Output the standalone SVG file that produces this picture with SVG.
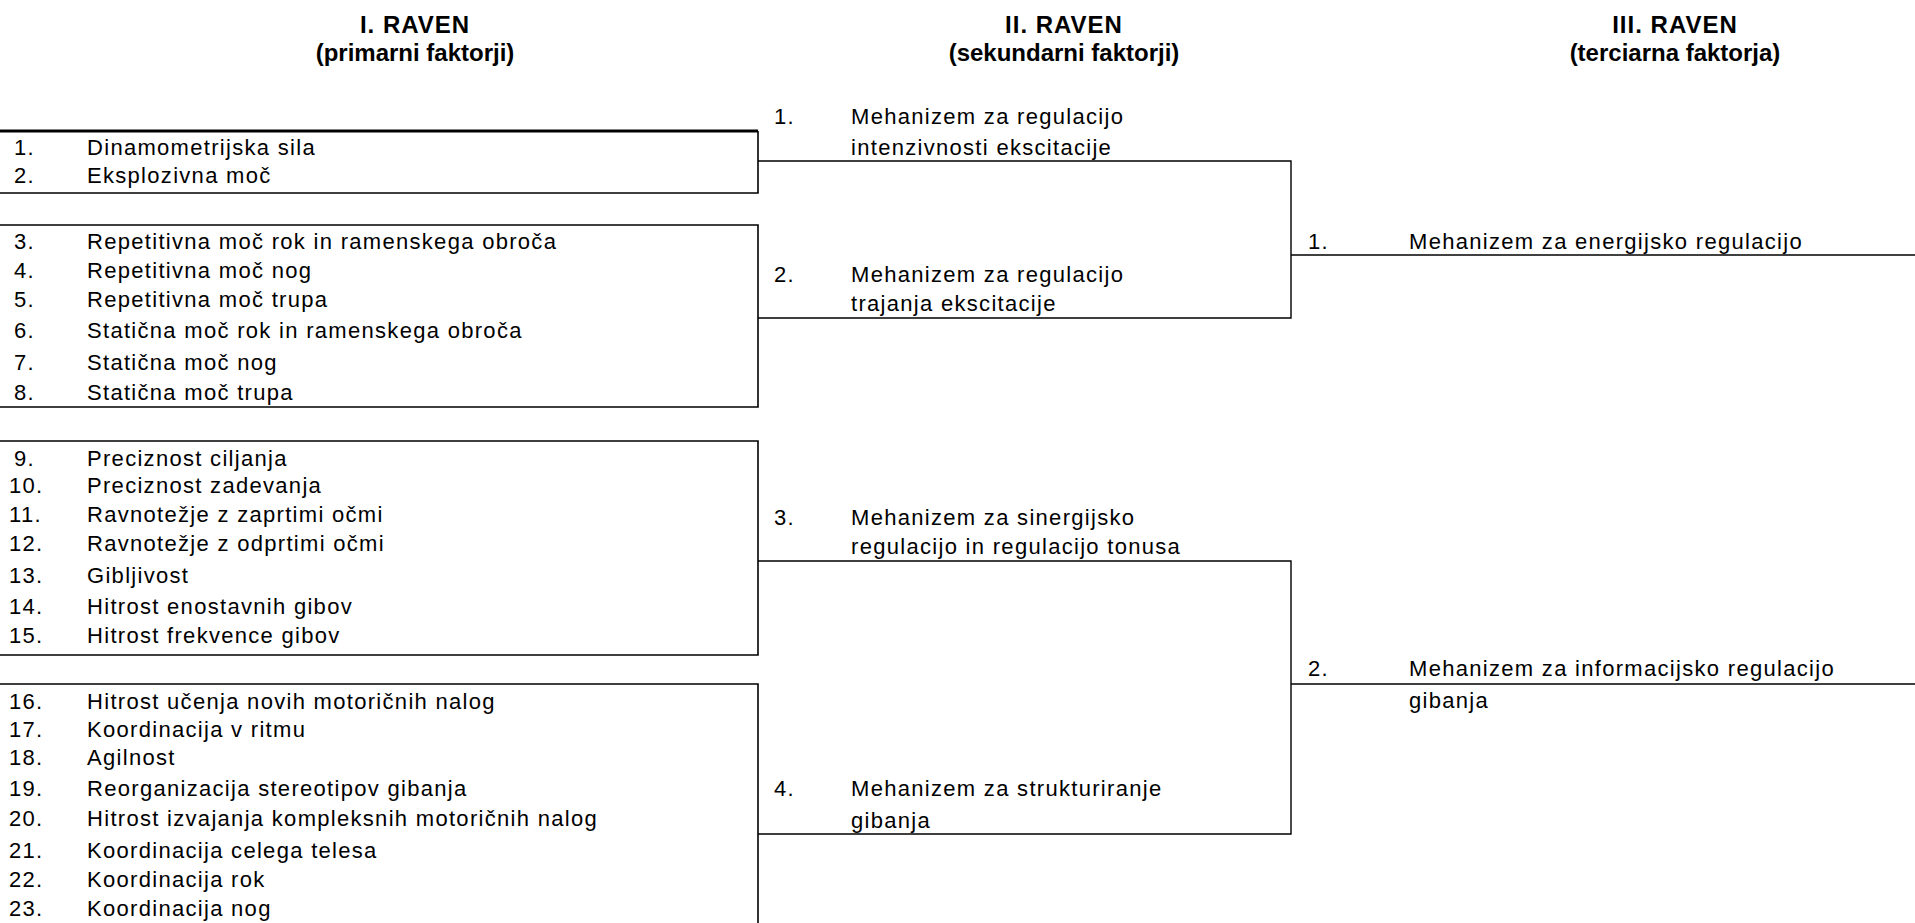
<svg xmlns="http://www.w3.org/2000/svg" width="1915" height="923" viewBox="0 0 1915 923">
<style>
.t{font-family:"Liberation Sans",Arial,sans-serif;font-size:22px;letter-spacing:1.3px;fill:#000}
.h{font-family:"Liberation Sans",Arial,sans-serif;font-size:24px;font-weight:bold;text-anchor:middle;fill:#000}
.r{letter-spacing:1px}
.box{fill:none;stroke:#000;stroke-width:1.6}
.con{fill:none;stroke:#000;stroke-width:1.4}
</style>
<rect width="1915" height="923" fill="#fff"/>
<g id="header-1"><text class="h r" x="415" y="33">I. RAVEN</text><text class="h" x="415" y="61">(primarni faktorji)</text></g>
<g id="header-2"><text class="h r" x="1064" y="33">II. RAVEN</text><text class="h" x="1064" y="61">(sekundarni faktorji)</text></g>
<g id="header-3"><text class="h r" x="1675" y="33">III. RAVEN</text><text class="h" x="1675" y="61">(terciarna faktorja)</text></g>

<g id="box-1">
<path class="box" d="M0,193 H758 V131"/>
<path d="M0,131 H758" stroke="#000" stroke-width="3"/>
<text class="t" x="14" y="155">1.</text><text class="t" x="87" y="155">Dinamometrijska sila</text>
<text class="t" x="14" y="183">2.</text><text class="t" x="87" y="183">Eksplozivna moč</text>
</g>
<g id="box-2">
<path class="box" d="M0,225 H758 V407 H0"/>
<text class="t" x="14" y="249">3.</text><text class="t" x="87" y="249">Repetitivna moč rok in ramenskega obroča</text>
<text class="t" x="14" y="278">4.</text><text class="t" x="87" y="278">Repetitivna moč nog</text>
<text class="t" x="14" y="307">5.</text><text class="t" x="87" y="307">Repetitivna moč trupa</text>
<text class="t" x="14" y="338">6.</text><text class="t" x="87" y="338">Statična moč rok in ramenskega obroča</text>
<text class="t" x="14" y="370">7.</text><text class="t" x="87" y="370">Statična moč nog</text>
<text class="t" x="14" y="400">8.</text><text class="t" x="87" y="400">Statična moč trupa</text>
</g>
<g id="box-3">
<path class="box" d="M0,441 H758 V655 H0"/>
<text class="t" x="14" y="466">9.</text><text class="t" x="87" y="466">Preciznost ciljanja</text>
<text class="t" x="9" y="493">10.</text><text class="t" x="87" y="493">Preciznost zadevanja</text>
<text class="t" x="9" y="522">11.</text><text class="t" x="87" y="522">Ravnotežje z zaprtimi očmi</text>
<text class="t" x="9" y="551">12.</text><text class="t" x="87" y="551">Ravnotežje z odprtimi očmi</text>
<text class="t" x="9" y="583">13.</text><text class="t" x="87" y="583">Gibljivost</text>
<text class="t" x="9" y="614">14.</text><text class="t" x="87" y="614">Hitrost enostavnih gibov</text>
<text class="t" x="9" y="643">15.</text><text class="t" x="87" y="643">Hitrost frekvence gibov</text>
</g>
<g id="box-4">
<path class="box" d="M0,684 H758 V925"/>
<text class="t" x="9" y="709">16.</text><text class="t" x="87" y="709">Hitrost učenja novih motoričnih nalog</text>
<text class="t" x="9" y="737">17.</text><text class="t" x="87" y="737">Koordinacija v ritmu</text>
<text class="t" x="9" y="765">18.</text><text class="t" x="87" y="765">Agilnost</text>
<text class="t" x="9" y="796">19.</text><text class="t" x="87" y="796">Reorganizacija stereotipov gibanja</text>
<text class="t" x="9" y="826">20.</text><text class="t" x="87" y="826">Hitrost izvajanja kompleksnih motoričnih nalog</text>
<text class="t" x="9" y="858">21.</text><text class="t" x="87" y="858">Koordinacija celega telesa</text>
<text class="t" x="9" y="887">22.</text><text class="t" x="87" y="887">Koordinacija rok</text>
<text class="t" x="9" y="916">23.</text><text class="t" x="87" y="916">Koordinacija nog</text>
</g>

<g id="level2-1"><text class="t" x="774" y="124">1.</text><text class="t" x="851" y="124">Mehanizem za regulacijo</text><text class="t" x="851" y="155">intenzivnosti ekscitacije</text></g>
<g id="level2-2"><text class="t" x="774" y="282">2.</text><text class="t" x="851" y="282">Mehanizem za regulacijo</text><text class="t" x="851" y="311">trajanja ekscitacije</text></g>
<g id="level2-3"><text class="t" x="774" y="525">3.</text><text class="t" x="851" y="525">Mehanizem za sinergijsko</text><text class="t" x="851" y="554">regulacijo in regulacijo tonusa</text></g>
<g id="level2-4"><text class="t" x="774" y="796">4.</text><text class="t" x="851" y="796">Mehanizem za strukturiranje</text><text class="t" x="851" y="828">gibanja</text></g>

<g id="level3-1"><text class="t" x="1308" y="249">1.</text><text class="t" x="1409" y="249">Mehanizem za energijsko regulacijo</text></g>
<g id="level3-2"><text class="t" x="1308" y="676">2.</text><text class="t" x="1409" y="676">Mehanizem za informacijsko regulacijo</text><text class="t" x="1409" y="708">gibanja</text></g>

<g id="connectors">
<path class="con" d="M758,161 H1291 V318 H758"/>
<path class="con" d="M1291,255 H1915"/>
<path class="con" d="M758,561 H1291 V834 H758"/>
<path class="con" d="M1291,684 H1915"/>
</g>
</svg>
